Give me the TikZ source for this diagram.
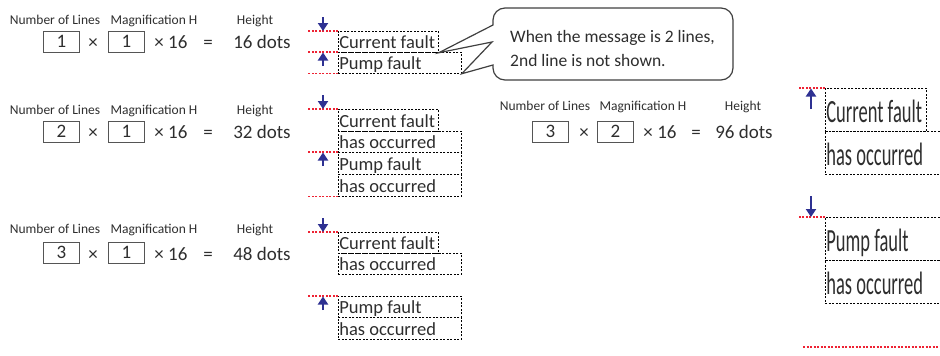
\documentclass[tikz,border=0pt]{standalone}
\usepackage{fontspec}
\setmainfont{Carlito}
\usetikzlibrary{arrows.meta}
\definecolor{txt}{HTML}{2E2E2E}
\definecolor{boxgray}{HTML}{555555}
\definecolor{redc}{HTML}{EE2233}
\definecolor{bluec}{RGB}{46,49,146}
\definecolor{calloutc}{HTML}{404040}
\newcommand{\lft}[2]{\makebox[#1][l]{#2}}
\tikzset{
  lbl/.style={font=\fontsize{13.5}{15}\selectfont, text=txt, inner sep=0pt, anchor=base},
  eqtxt/.style={font=\fontsize{19}{22}\selectfont, text=txt, inner sep=0pt, anchor=base},
  numbox/.style={draw=boxgray, line width=0.9pt, minimum width=36pt, minimum height=21pt,
    inner sep=0pt, text height=12pt, text depth=0pt, anchor=north west,
    font=\fontsize{19}{22}\selectfont, text=txt},
  msg/.style={draw=black, line width=0.75pt, dash pattern=on 2pt off 1.5pt, anchor=north west,
    inner xsep=1pt, inner ysep=0pt, text height=14pt, text depth=0pt,
    font=\fontsize{18.5}{22}\selectfont, text=txt},
  bigmsg/.style={msg, minimum height=43pt, text height=25pt},
  redln/.style={draw=redc, line width=1.1pt, dash pattern=on 2pt off 1.5pt},
  blarrow/.style={draw=bluec, line width=2.4pt, -{Triangle[width=10pt,length=8pt]}},
  callout/.style={draw=calloutc, line width=1.2pt, fill=white},
  calltxt/.style={font=\fontsize{17.5}{20}\selectfont, text=txt, inner sep=0pt, anchor=base west},
}
\begin{document}
\begin{tikzpicture}[x=1pt,y=-1pt]
\useasboundingbox (0,0) rectangle (940,356);
\clip (0,0) rectangle (940,356);

% ---------- Row 1 ----------
\node[lbl] (n1) at (55,24) {Number of Lines};
\node[lbl] (m1) at (154,24) {Magnification H};
\node[lbl] (h1) at (255,24) {Height};
\node[numbox] (b1a) at (43,31) {1};
\node[eqtxt] (x1a) at (93,48) {×};
\node[numbox] (b1b) at (108,31) {1};
\node[eqtxt] (x1b) at (171,48) {× 16};
\node[eqtxt] (e1) at (208,48) {=};
\node[eqtxt] (d1) at (262,48) {16 dots};

% ---------- Row 2 ----------
\node[lbl] (n2) at (55,114) {Number of Lines};
\node[lbl] (m2) at (154,114) {Magnification H};
\node[lbl] (h2) at (255,114) {Height};
\node[numbox] (b2a) at (43,121) {2};
\node[eqtxt] (x2a) at (93,138) {×};
\node[numbox] (b2b) at (108,121) {1};
\node[eqtxt] (x2b) at (171,138) {× 16};
\node[eqtxt] (e2) at (208,138) {=};
\node[eqtxt] (d2) at (262,138) {32 dots};

% ---------- Row 3 ----------
\node[lbl] (n3) at (55,233) {Number of Lines};
\node[lbl] (m3) at (154,233) {Magnification H};
\node[lbl] (h3) at (255,233) {Height};
\node[numbox] (b3a) at (43,242) {3};
\node[eqtxt] (x3a) at (93,260) {×};
\node[numbox] (b3b) at (108,242) {1};
\node[eqtxt] (x3b) at (171,260) {× 16};
\node[eqtxt] (e3) at (208,260) {=};
\node[eqtxt] (d3) at (262,260) {48 dots};

% ---------- Row 4 (right) ----------
\node[lbl] (n4) at (545,110) {Number of Lines};
\node[lbl] (m4) at (643,110) {Magnification H};
\node[lbl] (h4) at (743,110) {Height};
\node[numbox] (b4a) at (532,121) {3};
\node[eqtxt] (x4a) at (584,138) {×};
\node[numbox] (b4b) at (597,121) {2};
\node[eqtxt] (x4b) at (660,138) {× 16};
\node[eqtxt] (e4) at (696,138) {=};
\node[eqtxt] (d4) at (744,138) {96 dots};

% ---------- Message displays, row 1 ----------
\node[msg, minimum height=21pt] (r1c) at (338,31) {\lft{98pt}{Current fault}};
\node[msg, minimum height=21pt] (r1p) at (338,52) {\lft{121pt}{Pump fault}};
\draw[redln] (r1c.north west) -- ++(-30,0);
\draw[redln] (r1p.north west) -- ++(-30,0);
\draw[redln] (r1p.south west) -- ++(-30,0);
\draw[blarrow] (323,17) -- (323,31);
\draw[blarrow] (323,66) -- (323,52.5);

% ---------- Message displays, row 2 ----------
\node[msg, minimum height=22pt] (r2c) at (338,109) {\lft{98pt}{Current fault}};
\node[msg, minimum height=21pt] (r2ch) at (338,131) {\lft{121pt}{has occurred}};
\node[msg, minimum height=22pt] (r2p) at (338,152) {\lft{121pt}{Pump fault}};
\node[msg, minimum height=22pt] (r2ph) at (338,174) {\lft{121pt}{has occurred}};
\draw[redln] (r2c.north west) -- ++(-30,0);
\draw[redln] (r2p.north west) -- ++(-30,0);
\draw[redln] (r2ph.south west) -- ++(-30,0);
\draw[blarrow] (323,95) -- (323,109);
\draw[blarrow] (323,166) -- (323,152.5);

% ---------- Message displays, row 3 ----------
\node[msg, minimum height=21pt] (r3c) at (338,232) {\lft{98pt}{Current fault}};
\node[msg, minimum height=21pt] (r3ch) at (338,253) {\lft{121pt}{has occurred}};
\node[msg, minimum height=21pt] (r3p) at (338,296) {\lft{121pt}{Pump fault}};
\node[msg, minimum height=22pt] (r3ph) at (338,317) {\lft{121pt}{has occurred}};
\draw[redln] (r3c.north west) -- ++(-30,0);
\draw[redln] (r3p.north west) -- ++(-30,0);
\draw[blarrow] (323,218) -- (323,232);
\draw[blarrow] (323,310) -- (323,296.5);

% ---------- Message displays, right (magnification 2) ----------
\node[bigmsg] (Rc) at (825,88) {\lft{99pt}{\scalebox{1}[1.75]{Current fault}}};
\node[bigmsg] (Rch) at (825,131) {\lft{123pt}{\scalebox{1}[1.75]{has occurred}}};
\node[bigmsg] (Rp) at (825,217) {\lft{123pt}{\scalebox{1}[1.75]{Pump fault}}};
\node[bigmsg] (Rph) at (825,260) {\lft{123pt}{\scalebox{1}[1.75]{has occurred}}};
\coordinate (Rend) at (803,347);
\coordinate (Rend2) at (945,347);
\draw[redln] (Rc.north west) -- ++(-28,0);
\draw[redln] (Rp.north west) -- ++(-28,0);
\draw[redln] (Rend) -- (Rend2);
\draw[blarrow] (811,109) -- (811,88.5);
\draw[blarrow] (811,196) -- (811,217);

% ---------- Callout ----------
\draw[callout] (493,25) [rounded corners=12pt] -- (493,8) -- (733,8) -- (733,80) -- (493,80)
  [sharp corners] -- (493,65) -- (r1p.south east) -- (492,42) -- (r1c.south east) -- cycle;
\node[calltxt] (ct1) at (510,42) {When the message is 2 lines,};
\node[calltxt] (ct2) at (510,66) {2nd line is not shown.};
\end{tikzpicture}
\end{document}
